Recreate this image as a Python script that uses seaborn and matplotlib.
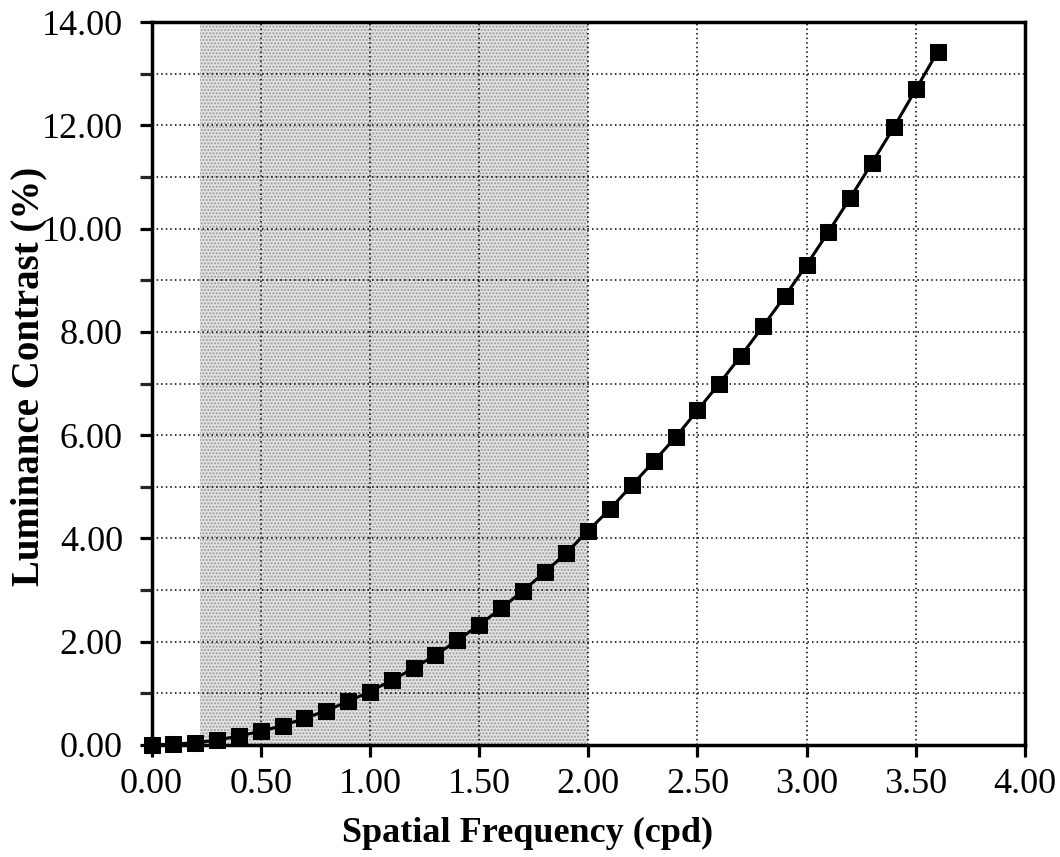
import matplotlib
matplotlib.use("Agg")
import matplotlib.pyplot as plt
import numpy as np
import pandas as pd
import seaborn as sns
from matplotlib.ticker import MultipleLocator, FormatStrFormatter

# spatial frequency (cpd) and luminance contrast (%)
freq = [0.0, 0.1, 0.2, 0.3, 0.4, 0.5, 0.6, 0.7, 0.8, 0.9,
        1.0, 1.1, 1.2, 1.3, 1.4, 1.5, 1.6, 1.7, 1.8, 1.9,
        2.0, 2.1, 2.2, 2.3, 2.4, 2.5, 2.6, 2.7, 2.8, 2.9,
        3.0, 3.1, 3.2, 3.3, 3.4, 3.5, 3.6]
contrast = [0.00, 0.01, 0.04, 0.09, 0.17, 0.26, 0.37, 0.51, 0.66, 0.84,
            1.03, 1.25, 1.48, 1.74, 2.02, 2.32, 2.64, 2.98, 3.34, 3.72,
            4.15, 4.57, 5.03, 5.49, 5.96, 6.48, 7.00, 7.54, 8.11, 8.69,
            9.30, 9.94, 10.60, 11.28, 11.97, 12.70, 13.43]

# shaded band
band = [0.22, 2.0]

df = pd.DataFrame({"freq": freq, "contrast": contrast})

sns.set_style("white")
plt.rcParams['font.family'] = ['Liberation Serif', 'DejaVu Serif']
plt.rcParams['text.color'] = 'black'
plt.rcParams['axes.labelcolor'] = 'black'
plt.rcParams['hatch.color'] = '#9a9a9a'
plt.rcParams['hatch.linewidth'] = 1.0

fig = plt.figure(figsize=(10.6, 8.57), dpi=100)
ax = fig.add_axes([0.143, 0.131, 0.824, 0.843])

ax.axvspan(band[0], band[1], facecolor='#e2e2e2', hatch='.....', edgecolor='#9a9a9a',
           linewidth=0, zorder=0)

sns.lineplot(data=df, x="freq", y="contrast", ax=ax, color='black', linewidth=2.2,
             marker='s', markersize=11, markeredgecolor='black', zorder=5,
             clip_on=False)

ax.set_xlim(0, 4)
ax.set_ylim(0, 14)
ax.xaxis.set_major_locator(MultipleLocator(0.5))
ax.yaxis.set_major_locator(MultipleLocator(2))
ax.yaxis.set_minor_locator(MultipleLocator(1))
ax.xaxis.set_major_formatter(FormatStrFormatter('%.2f'))
ax.yaxis.set_major_formatter(FormatStrFormatter('%.2f'))

ax.grid(True, which='major', axis='x', linestyle=(0, (1, 2)), color='black', linewidth=1.1)
ax.grid(True, which='both', axis='y', linestyle=(0, (1, 2)), color='black', linewidth=1.1)
ax.set_axisbelow(True)

for s in ax.spines.values():
    s.set_visible(True)
    s.set_linewidth(2.5)
    s.set_color('black')

ax.tick_params(axis='both', which='major', direction='out', length=8.6, width=2.3,
               labelsize=26, colors='black', bottom=True, left=True)
ax.tick_params(axis='x', which='major', pad=8)
ax.tick_params(axis='y', which='major', pad=12)
ax.tick_params(axis='y', which='minor', direction='out', length=8.6, width=2.3, left=True)

ax.set_xlabel('Spatial Frequency (cpd)', fontsize=26, fontweight='bold', color='black')
ax.set_ylabel('Luminance Contrast (%)', fontsize=28, fontweight='bold', color='black')
ax.xaxis.set_label_coords(0.431, -0.1)
ax.yaxis.set_label_coords(-0.119, 0.51)

fig.savefig('out.png', dpi=100)
